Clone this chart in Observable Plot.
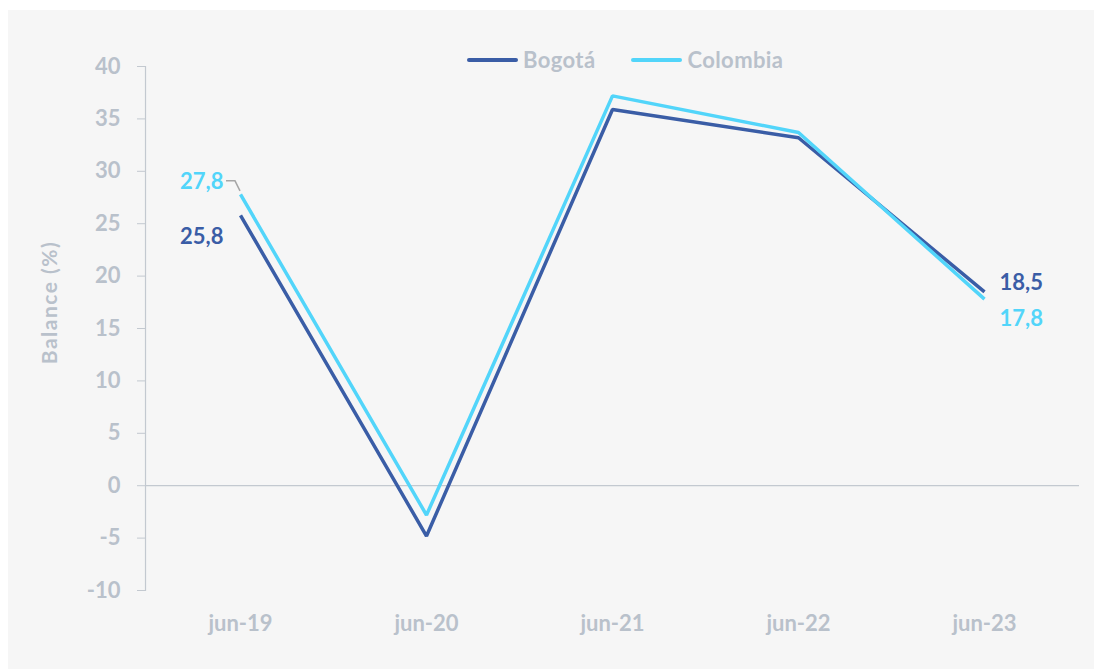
<!DOCTYPE html>
<html>
<head>
<meta charset="utf-8">
<script src="https://cdn.jsdelivr.net/npm/d3@7"></script>
<script src="https://cdn.jsdelivr.net/npm/@observablehq/plot@0.6"></script>
<style>
  html, body { margin: 0; padding: 0; background: #ffffff; }
  #wrap { position: relative; width: 1094px; height: 669px; overflow: hidden; }
  #panel { position: absolute; left: 8px; top: 10px; width: 1086px; height: 659px; background: #f6f6f6; }
  #chart { position: absolute; left: 0; top: 0; }
  #legend { position: absolute; top: 46px; left: 467px; display: flex; align-items: center;
            font-family: Lato, "Open Sans", sans-serif; font-weight: 700; font-size: 22px; color: #b9c1cb; letter-spacing: 0.4px; }
  .sw { display: inline-block; width: 51px; height: 4px; border-radius: 2px; margin-right: 5px; }
  .item { display: flex; align-items: center; margin-right: 36px; }
  .ylab text { letter-spacing: 1.5px; }
</style>
</head>
<body>
<div id="wrap">
  <div id="panel"></div>
  <div id="chart"></div>
  <div id="legend"></div>
</div>
<script>
const periods = ["jun-19", "jun-20", "jun-21", "jun-22", "jun-23"];
const bogota = [25.8, -4.8, 35.9, 33.2, 18.5];
const colombia = [27.8, -2.8, 37.2, 33.7, 17.8];
const seriesNames = ["Bogotá", "Colombia"];
const seriesColors = ["#3a5da6", "#52d5fa"];
const yTicks = [-10, -5, 0, 5, 10, 15, 20, 25, 30, 35, 40];

const rows = [];
periods.forEach((p, i) => {
  rows.push({period: p, value: bogota[i], series: seriesNames[0]});
  rows.push({period: p, value: colombia[i], series: seriesNames[1]});
});

const fmt = v => d3.format(".1f")(v).replace(".", ",");
const first = periods[0], last = periods[periods.length - 1];

const textGray = "#b9c1cb";
const font = "Lato, 'Open Sans', sans-serif";

// leader line for the Colombia label at the first point
const leader = (index, scales) => {
  const x = scales.x(first), y = scales.y(colombia[0]);
  const p = d3.create("svg:path")
    .attr("d", `M${x - 14},${y - 13}L${x - 5},${y - 13}L${x},${y - 3}`)
    .attr("fill", "none").attr("stroke", "#a6a6a6").attr("stroke-width", 1.5);
  return p.node();
};

const lab = (period, value, series, dx, dy, anchor) =>
  Plot.text([{period, value, series}], {x: "period", y: "value", text: d => fmt(d.value),
    fill: "series", dx, dy, textAnchor: anchor, fontSize: 22, fontWeight: 700});

const chart = Plot.plot({
  width: 1094,
  height: 669,
  marginLeft: 145,
  marginRight: 15,
  marginTop: 66,
  marginBottom: 79,
  style: {background: "transparent", fontFamily: font, fontWeight: 700},
  x: {type: "point", domain: periods, padding: 0.5},
  y: {domain: [-10, 40]},
  color: {domain: seriesNames, range: seriesColors},
  marks: [
    Plot.frame({anchor: "left", stroke: "#c3c9d0", strokeWidth: 1.2}),
    Plot.ruleY([0], {stroke: "#c3c9d0", strokeWidth: 1.2}),
    Plot.axisY({ticks: yTicks, tickSize: 8, tickPadding: 17, stroke: "#c3c9d0", fill: textGray,
                fontSize: 22, fontWeight: 700, label: null, tickFormat: d => String(d)}),
    Plot.axisX({tickSize: 0, tickPadding: 25, fill: textGray, fontSize: 22, fontWeight: 700, label: null}),
    Plot.text(["Balance (%)"], {frameAnchor: "left", dx: -95, dy: -26, rotate: -90, textAnchor: "middle",
                fill: textGray, fontSize: 21, fontWeight: 700, className: "ylab"}),
    Plot.line(rows, {x: "period", y: "value", z: "series", stroke: "series",
                strokeWidth: 3.5, strokeLinejoin: "miter", strokeLinecap: "butt"}),
    leader,
    lab(first, colombia[0], "Colombia", -17, -12, "end"),
    lab(first, bogota[0], "Bogotá", -17, 22, "end"),
    lab(last, bogota[4], "Bogotá", 15, -9, "start"),
    lab(last, colombia[4], "Colombia", 15, 20, "start")
  ]
});
document.getElementById("chart").appendChild(chart);

const legend = document.getElementById("legend");
seriesNames.forEach((n, i) => {
  const it = document.createElement("div");
  it.className = "item";
  const sw = document.createElement("span");
  sw.className = "sw";
  sw.style.background = seriesColors[i];
  it.appendChild(sw);
  it.appendChild(document.createTextNode(n));
  legend.appendChild(it);
});
</script>
</body>
</html>
